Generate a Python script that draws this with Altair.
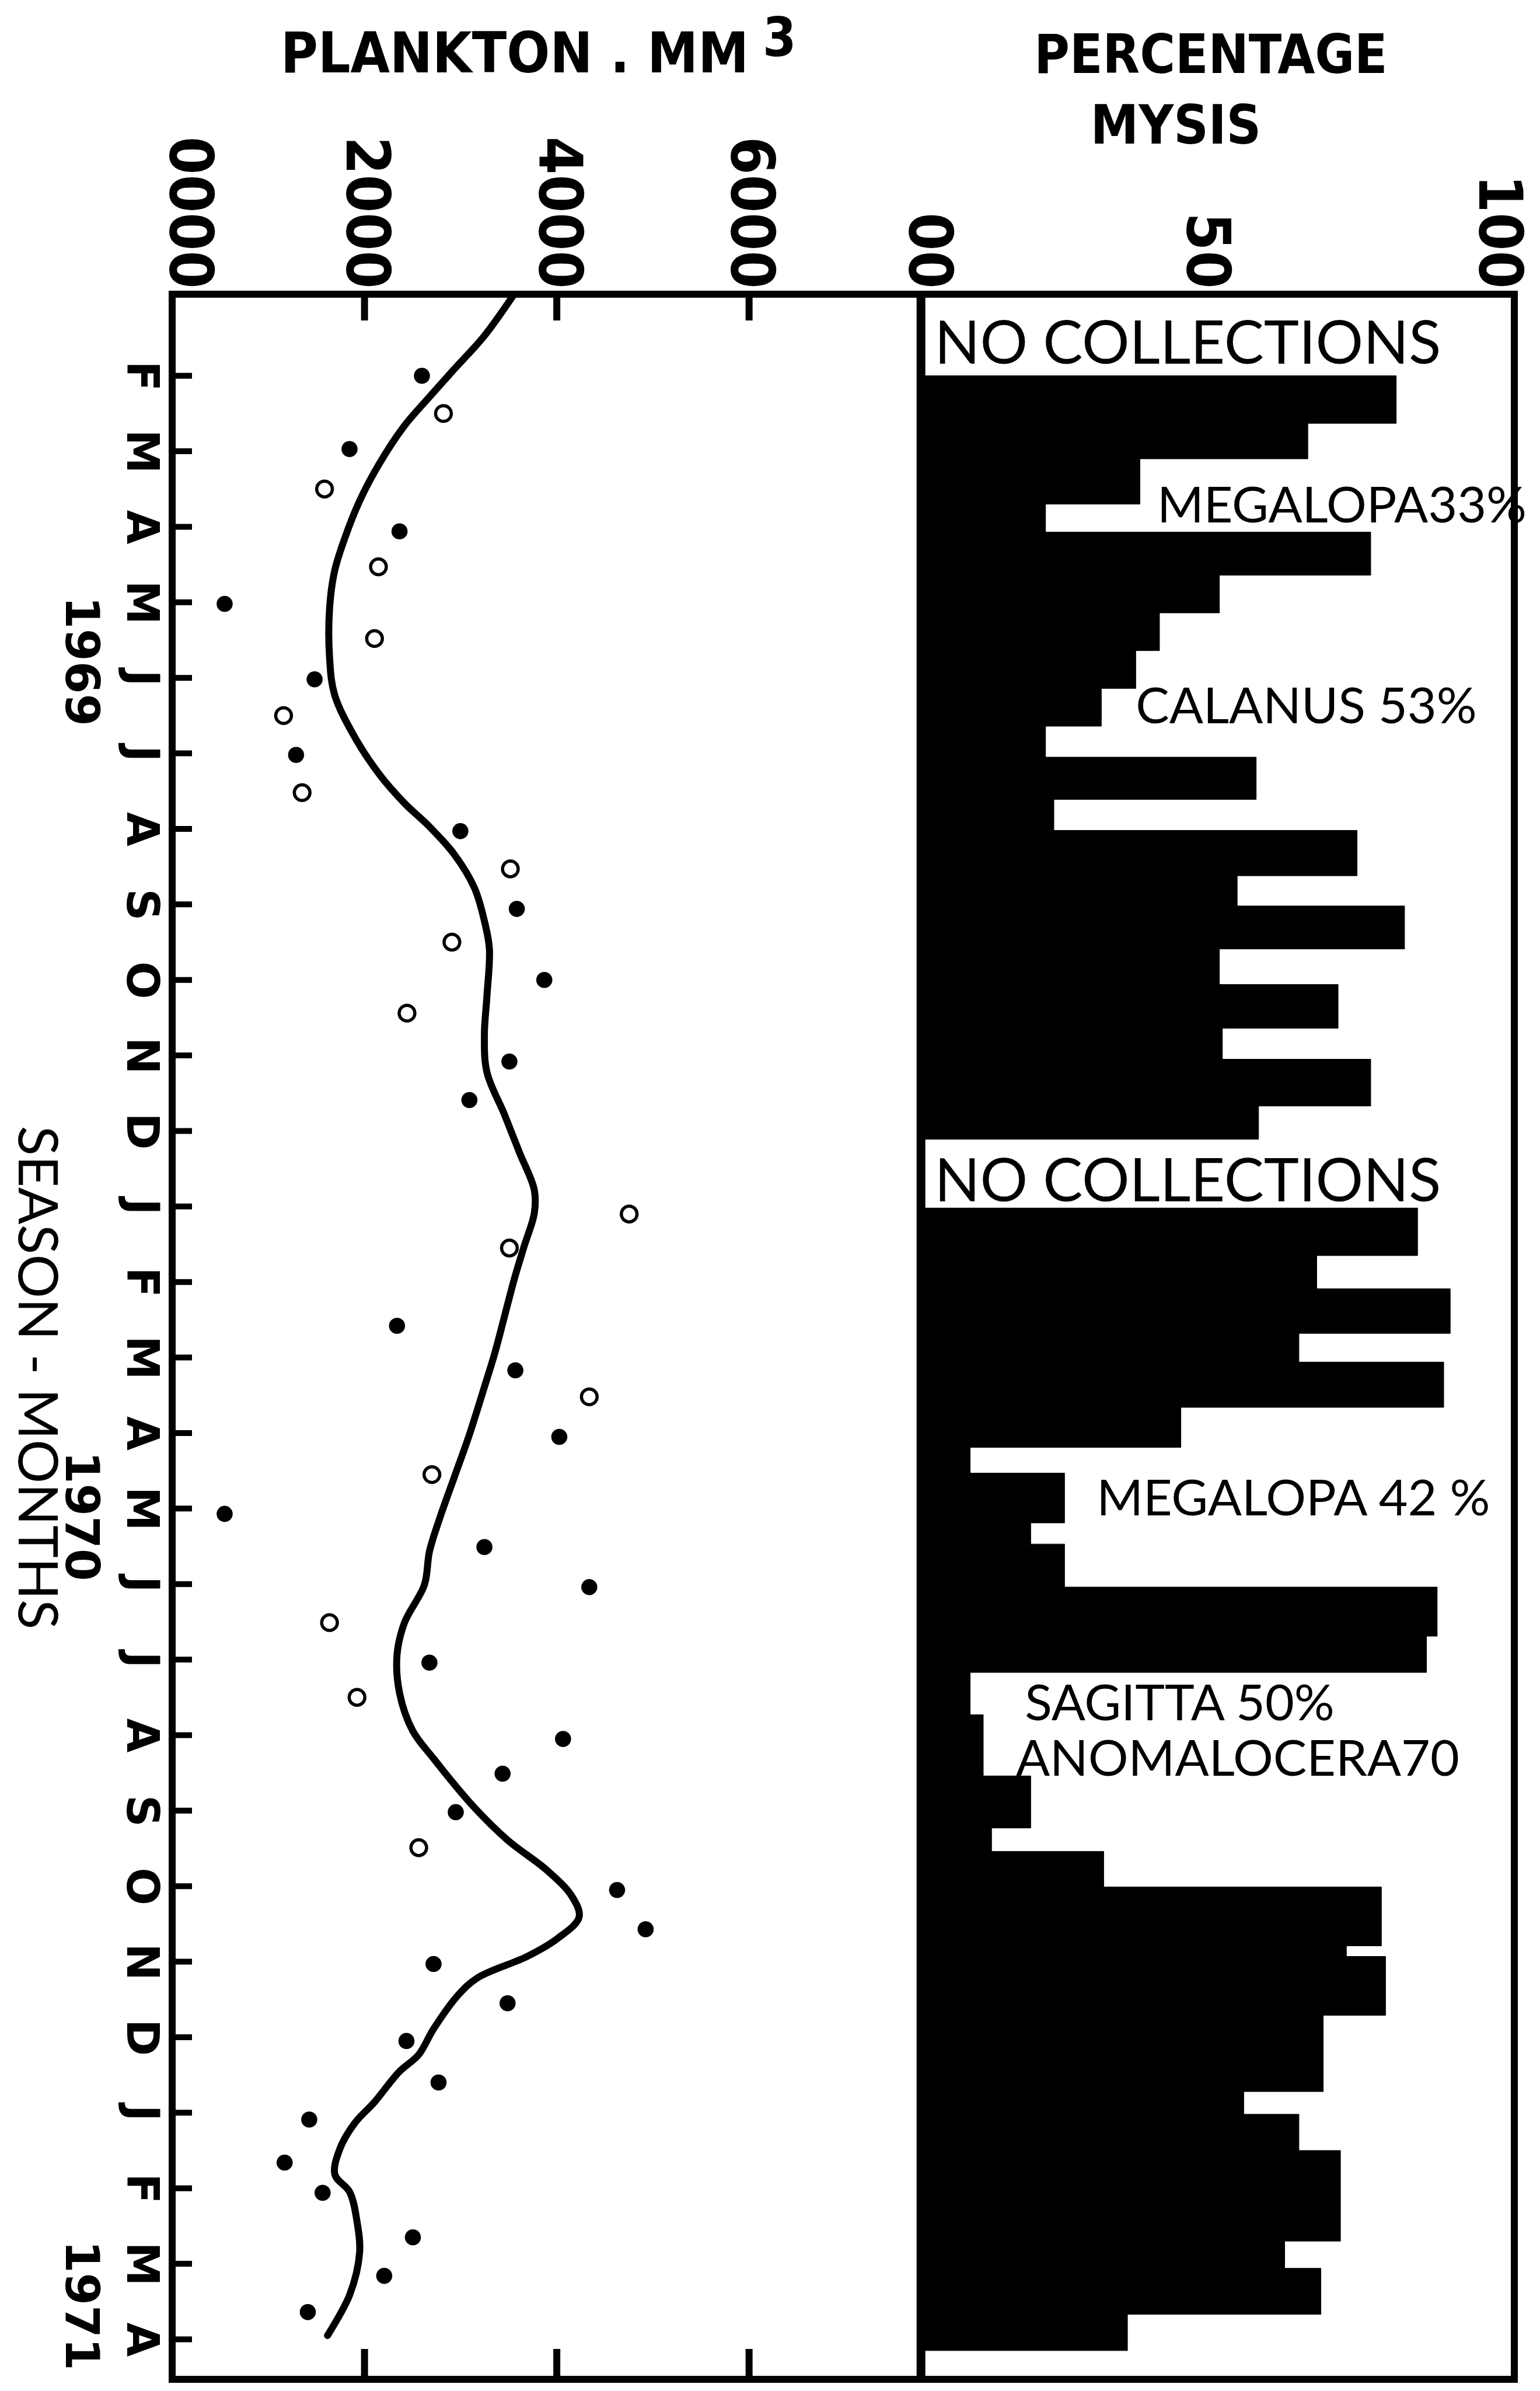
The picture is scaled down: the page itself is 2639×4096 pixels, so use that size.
import json
import altair as alt
import pandas as pd

# ---------------- data ----------------
month_ticks = list(range(1, 28))
month_labels = ["F", "M", "A", "M", "J", "J", "A", "S", "O", "N", "D",
                "J", "F", "M", "A", "M", "J", "J", "A", "S", "O", "N", "D",
                "J", "F", "M", "A"]
year_labels = ["1969", "1970", "1971"]
year_month = [4.78, 16.1, 26.55]

plankton_tick_values = [0, 2000, 4000, 6000]
plankton_tick_labels = ["0000", "2000", "4000", "6000"]
pct_tick_values = [0, 50, 100]
pct_tick_labels = ["00", "50", "100"]

# smooth plankton curve (month index, mm3), month 0 = Jan 1969
curve_month = [-0.05, 0.47, 0.91, 1.28, 1.66, 2.16, 2.66, 3.16, 3.59, 4.09, 4.72,
               5.22, 5.78, 6.28, 6.66, 6.97, 7.34, 7.78, 8.22, 8.59, 9.22, 9.72,
               10.22, 10.78, 11.28, 11.78, 12.09, 12.52, 12.96, 13.46, 13.96,
               14.39, 15.02, 15.58, 16.14, 16.57, 17.01, 17.51, 17.94, 18.44,
               18.94, 19.31, 19.94, 20.39, 20.79, 21.13, 21.41, 21.70, 21.93,
               22.21, 22.44, 22.89, 23.23, 23.46, 23.86, 24.14, 24.48, 24.82,
               25.05, 25.45, 25.85, 26.41, 26.95]
curve_volume = [3540, 3247, 2935, 2675, 2416, 2156, 1948, 1792, 1688, 1636, 1636,
                1688, 1896, 2156, 2416, 2675, 2935, 3143, 3247, 3299, 3273, 3247,
                3273, 3455, 3610, 3766, 3766, 3662, 3558, 3455, 3351,
                3247, 3091, 2935, 2779, 2675, 2623, 2416, 2338, 2364,
                2500, 2718, 3129, 3488, 3898, 4155, 4232, 4000, 3693,
                3180, 2975, 2718, 2564, 2359, 2103, 1897, 1743, 1692,
                1846, 1923, 1949, 1846, 1615]

# filled dots
filled_month = [1.0, 1.97, 3.06, 4.02, 5.02, 6.02, 7.03, 8.06, 9.0, 10.08, 10.59,
                13.58, 14.17, 15.05, 16.07, 16.51, 17.04, 18.04, 19.05, 19.51,
                20.02, 21.05, 21.57, 22.03, 22.55, 23.05, 23.6, 24.09, 24.66,
                25.06, 25.65, 26.16, 26.64]
filled_volume = [2597, 1844, 2364, 545, 1481, 1288, 2997, 3584, 3870, 3507, 3091,
                 2338, 3569, 4026, 545, 3247, 4338, 2675, 4065, 3436,
                 2949, 4627, 4924, 2718, 3488, 2436, 2770, 1425, 1169,
                 1564, 2503, 2205, 1410]
# open circles
open_month = [1.5, 2.5, 3.53, 4.48, 5.5, 6.52, 7.53, 8.5, 9.44, 12.1, 12.55,
              14.52, 15.55, 17.51, 18.5, 20.49]
open_volume = [2821, 1584, 2145, 2104, 1158, 1351, 3517, 2909, 2442, 4753, 3507,
               4338, 2701, 1636, 1922, 2564]

# percentage Mysis bars (start month, end month, percent)
bar_start = [1.00, 1.63, 2.10, 2.70, 3.07, 3.64, 4.14, 4.64, 5.14, 5.64,
             6.05, 6.61, 7.02, 7.62, 8.02, 8.59, 9.06, 9.64, 10.05, 10.67,
             12.02, 12.65, 13.09, 13.68, 14.06, 14.66, 15.19, 15.53, 16.19, 16.47,
             17.04, 17.69, 18.17, 18.73, 19.54, 20.23, 20.54, 21.01, 21.79, 21.93,
             22.71, 23.72, 24.02, 24.50, 25.70, 26.06, 26.67]
bar_end = [1.63, 2.10, 2.70, 3.07, 3.64, 4.14, 4.64, 5.14, 5.64, 6.05,
           6.61, 7.02, 7.62, 8.02, 8.59, 9.06, 9.64, 10.05, 10.67, 11.11,
           12.65, 13.09, 13.68, 14.06, 14.66, 15.19, 15.53, 16.19, 16.47, 17.04,
           17.69, 18.17, 18.73, 19.54, 20.23, 20.54, 21.01, 21.79, 21.93, 22.71,
           23.72, 24.02, 24.50, 25.70, 26.06, 26.67, 27.15]
bar_pct = [80.1, 65.2, 36.9, 21.0, 75.8, 50.3, 40.2, 36.2, 30.4, 21.0,
           56.5, 22.4, 73.5, 53.3, 81.5, 50.3, 70.3, 50.8, 75.8, 56.9,
           83.7, 66.7, 89.2, 63.7, 88.1, 43.8, 8.3, 24.2, 18.5, 24.2,
           87.0, 85.2, 8.3, 10.5, 18.5, 11.9, 30.8, 77.6, 71.7, 78.3,
           67.8, 54.4, 63.7, 70.7, 61.3, 67.4, 34.8]

# annotations inside the bar panel (percent, month of baseline)
gap_text = ["NO COLLECTIONS", "NO COLLECTIONS"]
gap_pct = [2.3, 2.3]
gap_month = [0.84, 11.93]
note_text = ["MEGALOPA33%", "CALANUS 53%", "MEGALOPA 42 %", "SAGITTA 50%", "ANOMALOCERA70"]
note_pct = [39.8, 36.2, 29.6, 17.5, 16.0]
note_month = [2.94, 5.6, 16.09, 18.8, 19.54]

# ---------------- layout ----------------
W, H = 2300, 3572
y_scale = alt.Scale(domain=[-0.08, 27.53], reverse=True, nice=False, zero=False)
vol_scale = alt.Scale(domain=[-1, 13960], nice=False, zero=False)
pct_scale = alt.Scale(domain=[-126.2, 100], nice=False, zero=False)

BOLD_FONT = "'DejaVu Sans Condensed', 'DejaVu Sans'"


def lookup_expr(values, labels):
    return f"{json.dumps(labels)}[indexof({json.dumps(values)}, datum.value)]"


month_axis = alt.Axis(orient="left", values=month_ticks,
                      labelExpr=f"{json.dumps(month_labels)}[datum.value - 1]",
                      labelAngle=90, labelAlign="center", labelBaseline="top",
                      labelPadding=18, labelFont="DejaVu Sans", labelFontSize=76,
                      labelFontWeight="bold", labelColor="black", labelLimit=0,
                      ticks=False, tickSize=0, domain=False, grid=False, title=None,
                      labelOverlap=False, labelFlush=False)

vol_axis = alt.Axis(orient="top", values=plankton_tick_values,
                    labelExpr=lookup_expr(plankton_tick_values, plankton_tick_labels),
                    labelAngle=90, labelAlign="right", labelBaseline="middle",
                    labelPadding=10, labelFont=BOLD_FONT, labelFontSize=104,
                    labelFontWeight="bold", labelColor="black", labelLimit=0,
                    labelOffset={"condition": {"test": "datum.value === 0", "value": 26}, "value": 0},
                    ticks=False, tickSize=0, domain=False, grid=False, title=None,
                    labelOverlap=False, labelFlush=False)

pct_axis = alt.Axis(orient="top", values=pct_tick_values,
                    labelExpr=lookup_expr(pct_tick_values, pct_tick_labels),
                    labelAngle=90, labelAlign="right", labelBaseline="middle",
                    labelPadding=10, labelFont=BOLD_FONT, labelFontSize=104,
                    labelFontWeight="bold", labelColor="black", labelLimit=0,
                    labelOffset={"condition": [{"test": "datum.value === 0", "value": 10},
                                               {"test": "datum.value === 50", "value": -22}],
                                 "value": -30},
                    ticks=False, tickSize=0, domain=False, grid=False, title=None,
                    labelOverlap=False, labelFlush=False)


def Y(field):
    return alt.Y(field, type="quantitative", scale=y_scale, axis=month_axis)


bars_df = pd.DataFrame({"start": bar_start, "end": bar_end, "pct": bar_pct})
curve_df = pd.DataFrame({"m": curve_month, "v": curve_volume})
filled_df = pd.DataFrame({"m": filled_month, "v": filled_volume})
open_df = pd.DataFrame({"m": open_month, "v": open_volume})
gap_df = pd.DataFrame({"t": gap_text, "pct": gap_pct, "m": gap_month})
note_df = pd.DataFrame({"t": note_text, "pct": note_pct, "m": note_month})
year_df = pd.DataFrame({"t": year_labels, "m": year_month})
month_df = pd.DataFrame({"m": month_ticks})
vtick_df = pd.DataFrame({"v": plankton_tick_values[1:]})
pzero_df = pd.DataFrame({"p": pct_tick_values[:1]})
one = pd.DataFrame({"a": [0]})

bars = alt.Chart(bars_df).mark_rect(color="black", stroke="black", strokeWidth=1).encode(
    x=alt.X("pct:Q", scale=pct_scale, axis=pct_axis),
    x2=alt.X2(datum=0),
    y=Y("start"),
    y2="end:Q",
)

pct_zero = alt.Chart(pzero_df).mark_rule(color="black", strokeWidth=15).encode(
    x=alt.X("p:Q", scale=pct_scale, axis=None),
    y=alt.value(0), y2=alt.value(H),
)

gaps = alt.Chart(gap_df).mark_text(align="left", baseline="alphabetic", font="Lato",
                                   fontSize=102, color="black").encode(
    x=alt.X("pct:Q", scale=pct_scale, axis=None),
    y=Y("m"),
    text="t:N",
)

notes = alt.Chart(note_df).mark_text(align="left", baseline="alphabetic", font="Lato",
                                     fontSize=86, color="black").encode(
    x=alt.X("pct:Q", scale=pct_scale, axis=None),
    y=Y("m"),
    text="t:N",
)

curve = alt.Chart(curve_df).mark_line(color="black", strokeWidth=12,
                                      interpolate="catmull-rom", strokeCap="round").encode(
    x=alt.X("v:Q", scale=vol_scale, axis=vol_axis),
    y=Y("m"),
    order="m:Q",
)

dots = alt.Chart(filled_df).mark_circle(color="black", opacity=1, size=760).encode(
    x=alt.X("v:Q", scale=vol_scale, axis=None),
    y=Y("m"),
)

rings = alt.Chart(open_df).mark_point(shape="circle", filled=False, color="black",
                                      strokeWidth=5.5, size=720, opacity=1).encode(
    x=alt.X("v:Q", scale=vol_scale, axis=None),
    y=Y("m"),
)

top_ticks = alt.Chart(vtick_df).mark_rule(color="black", strokeWidth=12).encode(
    x=alt.X("v:Q", scale=vol_scale, axis=None),
    y=alt.value(0), y2=alt.value(45),
)
bottom_ticks = alt.Chart(vtick_df).mark_rule(color="black", strokeWidth=12).encode(
    x=alt.X("v:Q", scale=vol_scale, axis=None),
    y=alt.value(H - 52), y2=alt.value(H),
)
month_tick_rules = alt.Chart(month_df).mark_rule(color="black", strokeWidth=10).encode(
    y=Y("m"),
    x=alt.value(0), x2=alt.value(34),
)

years = alt.Chart(year_df).mark_text(angle=90, align="center", baseline="middle",
                                     font="DejaVu Sans", fontSize=80, fontWeight="bold",
                                     color="black").encode(
    y=Y("m"),
    x=alt.value(-158),
    text="t:N",
)

season = alt.Chart(one).mark_text(angle=90, align="center", baseline="middle",
                                  font="Lato", fontSize=94, color="black").encode(
    x=alt.value(-235), y=alt.value(1856), text=alt.value("SEASON - MONTHS"),
)

title_plankton = alt.Chart(one).mark_text(align="left", baseline="alphabetic",
                                          font=BOLD_FONT, fontWeight="bold",
                                          fontSize=97, color="black").encode(
    x=alt.value(186), y=alt.value(-380), text=alt.value("PLANKTON . MM"),
)
title_cube = alt.Chart(one).mark_text(align="left", baseline="alphabetic",
                                      font=BOLD_FONT, fontWeight="bold",
                                      fontSize=92, color="black").encode(
    x=alt.value(1012), y=alt.value(-408), text=alt.value("3"),
)
title_pct = alt.Chart(one).mark_text(align="center", baseline="alphabetic",
                                     font=BOLD_FONT, fontWeight="bold",
                                     fontSize=92, color="black").encode(
    x=alt.value(1780), y=alt.value(-379), text=alt.value("PERCENTAGE"),
)
title_mysis = alt.Chart(one).mark_text(align="center", baseline="alphabetic",
                                       font=BOLD_FONT, fontWeight="bold",
                                       fontSize=92, color="black").encode(
    x=alt.value(1720), y=alt.value(-258), text=alt.value("MYSIS"),
)

chart = alt.layer(
    bars, pct_zero, gaps, notes, curve, dots, rings,
    top_ticks, bottom_ticks, month_tick_rules, years, season,
    title_plankton, title_cube, title_pct, title_mysis,
).resolve_scale(x="independent").properties(
    width=W, height=H,
    autosize=alt.AutoSizeParams(type="none"),
    padding={"left": 287, "top": 496, "right": 36, "bottom": 12},
    background="white",
).configure_view(stroke="black", strokeWidth=12)

chart.save("out.html", embed_options={"renderer": "svg", "actions": False})
